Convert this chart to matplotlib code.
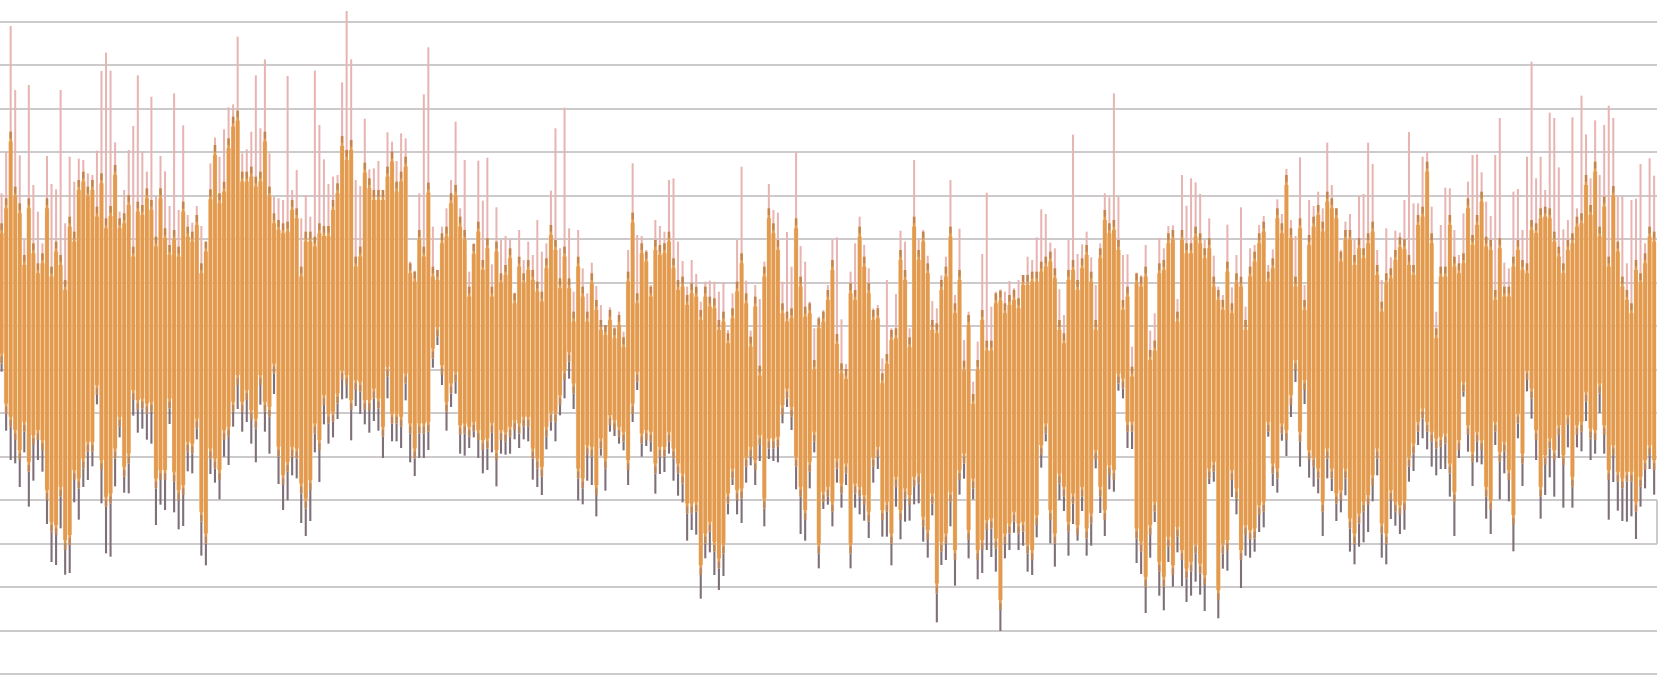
import numpy as np
import matplotlib
matplotlib.use("Agg")
import matplotlib.pyplot as plt

# Values are in arbitrary chart units (the reference shows no axis labels);
# one grid interval is 130.4 units.
HIGH = [
1442,1567,1944,1752,1556,1302,1767,1467,1387,1292,
1554,1470,1454,1752,1352,1552,1477,1546,1542,1502,
1497,1570,1809,1864,1810,1595,1387,1452,1572,1644,
1796,1565,1507,1732,1432,1554,1508,1404,1742,1392,
1646,1377,1354,1404,1344,1297,1532,1609,1552,1634,
1700,1709,1912,1562,1574,1627,1796,1637,1844,1562,
1432,1427,1422,1794,1452,1512,1367,1437,1372,1810,
1647,1544,1470,1492,1497,1775,1989,1844,1482,1464,
1666,1514,1517,1539,1450,1625,1597,1539,1622,1607,
1237,1210,
1442,1739,1880,1342,1212,1342,1397,1482,1657,1397,
1542,1207,1292,1540,1420,1549,1229,1400,1302,1314,
1304,1144,1332,1242,1297,1257,1362,1267,1292,1450,
1637,1277,1699,1337,1147,1332,1217,1142,1234,1164,
1107,1047,1100,1042,1087,1027,1272,1532,1317,1314,
1272,1167,1362,1344,1327,1482,1487,1297,1239,1162,
1242,1200,1117,1177,1180,1177,1147,1174,1032,1142,
1302,1522,1180,1030,1167,1125,1237,1470,1392,1384,
1177,1326,1222,1564,1284,1237,1117,1037,1072,1092,
1167,1302,
1310,1064,930,1207,1292,1372,1287,1217,1097,1107,
947,1182,1037,1140,1330,1297,1037,1542,1304,1332,
1255,1119,1097,1196,1252,1482,1137,1336,1002,1087,
877,997,1260,1444,1102,1147,1154,1147,1179,1157,
1182,1197,1252,1242,1310,1394,1380,1294,1277,1154,
1077,1302,1618,1260,1289,1327,1250,1167,1292,1442,
1430,1742,1432,1257,1259,982,1204,1196,1287,1030,
1082,1308,1277,1344,1346,1125,1497,1405,1487,1475,
1440,1302,1367,1255,1162,1137,1348,1160,1257,1400,
1102,
1277,1287,1347,1374,1227,1274,1424,1380,1515,1362,
1314,1550,1167,1422,1404,1447,1397,1594,1467,1397,
1272,1357,1380,1302,1434,1440,1594,1530,1272,1182,
1337,1250,1330,1324,1422,1626,1412,1412,1552,1567,
1402,1087,1347,1459,1457,1332,1257,1382,1477,1557,
1559,1505,1417,1374,1557,1668,1234,1217,1447,1455,
1332,1552,1837,1487,1552,1452,1684,1668,1520,1334,
1362,1670,1397,1735,1619,1487,1661,1497,1647,1705,
1668,1432,1435,1232,1422,1426,1530,1292,1547,1495,
]

UPPER = [
1352,1427,1627,1462,1412,1257,1427,1292,1232,1262,
1427,1222,1297,1257,1182,1372,1327,1482,1507,1462,
1482,1402,1502,1367,1404,1527,1367,1382,1437,1282,
1417,1407,1457,1422,1312,1457,1337,1287,1332,1282,
1417,1342,1327,1377,1232,1297,1454,1587,1442,1477,
1607,1672,1690,1507,1507,1522,1492,1507,1627,1462,
1382,1362,1352,1357,1422,1397,1222,1327,1327,1312,
1352,1344,1344,1422,1472,1614,1572,1602,1252,1282,
1534,1487,1452,1452,1452,1522,1567,1477,1507,1552,
1232,1207,
1332,1282,1474,1222,1212,1322,1342,1442,1467,1372,
1332,1162,1290,1357,1242,1307,1162,1297,1202,1227,
1277,1142,1252,1202,1242,1212,1177,1147,1247,1347,
1302,1187,1282,1187,1087,1252,1162,1087,1202,1122,
1062,1047,1092,1037,1077,1010,1207,1384,1142,1292,
1267,1162,1302,1287,1292,1327,1247,1182,1192,1137,
1172,1162,1092,1162,1132,1127,1062,1087,1022,1097,
1177,1262,1142,1012,1132,925,1222,1397,1352,1302,
1112,1087,1097,1367,1192,1102,1112,942,1067,1087,
1152,1242,
1020,932,915,1172,1152,1342,1252,1172,1092,1097,
902,960,1032,1037,1272,1212,1010,1372,1272,1327,
1232,1062,1052,1182,1222,1342,1112,1212,940,1077,
840,942,1092,1000,1000,1142,1150,1112,1137,1152,
1127,1197,1197,1207,1207,1237,1252,1267,1217,1062,
1022,1212,1242,1182,1247,1287,1207,1062,1277,1392,
1352,1362,1302,1122,1162,922,1202,1192,1222,972,
1000,1232,1242,1322,1332,1087,1332,1292,1292,1342,
1322,1277,1307,1192,1152,1122,1237,1112,1202,1192,
1062,
1222,1267,1322,1357,1207,1247,1397,1352,1497,1337,
1192,1367,1122,1317,1372,1407,1357,1447,1427,1397,
1267,1332,1332,1257,1307,1277,1322,1357,1227,1117,
1202,1217,1272,1310,1304,1257,1227,1377,1402,1537,
1322,1037,1222,1222,1377,1252,1232,1262,1427,1317,
1377,1447,1312,1302,1152,1307,1162,1162,1252,1302,
1242,1232,1362,1352,1397,1402,1397,1327,1282,1232,
1302,1322,1372,1382,1497,1407,1537,1342,1432,1252,
1464,1297,1192,1152,1112,1242,1202,1262,1342,1327,
]

LOW = [
907,730,642,632,561,665,502,580,642,607,
450,336,327,437,298,303,515,463,561,582,
623,809,512,362,352,563,710,544,542,775,
724,736,703,691,447,508,492,750,485,434,
444,608,602,704,355,326,600,574,524,652,
627,742,795,727,756,691,635,808,727,661,
840,570,492,521,596,587,453,414,459,665,
576,749,691,710,765,824,827,701,804,780,
749,724,759,730,648,827,698,698,678,821,
635,594,648,
648,672,919,987,867,730,801,841,661,655,
678,710,648,602,612,665,563,661,658,661,
704,678,704,698,583,561,537,674,730,698,
776,827,886,795,521,509,580,567,473,655,
550,727,714,691,671,567,756,852,652,684,
667,541,600,606,661,580,535,515,400,432,
418,226,347,365,297,252,294,479,567,479,
453,574,626,567,639,443,645,639,635,752,
801,732,554,420,400,557,665,317,495,508,
443,
574,499,567,317,499,479,460,408,574,615,
412,412,326,502,404,457,460,509,512,397,
349,476,155,327,342,443,265,538,586,347,
524,284,303,372,351,307,129,347,372,424,
372,385,307,297,410,619,698,392,322,522,
489,355,450,400,489,355,385,617,483,414,
554,547,850,827,678,675,333,300,183,349,
456,235,191,336,262,365,264,216,235,277,
238,189,570,577,167,316,310,531,479,258,
355,349,367,426,440,712,564,544,700,654,
771,876,622,810,589,562,542,414,587,549,
459,485,536,367,329,382,395,426,518,596,
349,329,465,445,420,433,577,609,687,707,
674,622,596,615,615,532,414,648,832,667,
564,635,629,466,420,687,524,602,518,368,
707,564,848,766,642,466,537,590,532,648,
499,680,499,680,668,759,642,661,783,661,
463,576,490,459,457,473,405,502,557,615,
538,
]

LOWER = [
932,
782,742,702,642,727,607,687,702,672,522,427,417,532,372,387,582,557,617,667,
667,837,612,502,512,647,742,592,632,822,792,797,782,787,557,582,582,797,577,522,
537,667,662,737,457,392,647,617,582,702,712,787,867,787,822,762,737,867,787,772,
902,652,567,607,652,647,542,497,552,722,672,807,752,757,812,882,867,792,852,847,
792,792,827,797,712,892,752,752,742,872,722,647,
722,722,727,947,1012,897,787,842,877,717,722,712,727,702,672,677,724,642,702,697,
712,732,722,742,742,647,617,592,712,757,757,807,882,937,842,587,557,657,652,537,
677,617,747,732,712,697,612,782,877,692,702,697,602,652,652,697,647,602,572,482,
482,487,297,392,427,367,317,362,512,587,522,527,622,652,612,687,497,677,677,682,
777,827,772,622,532,462,607,697,362,517,532,
487,617,542,602,362,542,532,507,457,622,652,462,487,392,562,462,527,507,562,572,
442,402,512,242,367,392,517,342,582,632,402,557,342,372,432,437,377,192,392,422,
457,422,427,362,342,447,657,722,462,392,572,532,427,512,417,532,407,452,642,532,
462,597,582,872,857,727,727,407,367,262,417,487,307,262,382,297,412,342,287,307,
362,302,267,587,607,222,362,372,582,527,342,417,402,
407,477,487,727,602,587,722,702,807,912,697,852,642,622,587,487,647,587,512,522,
587,437,392,452,487,507,567,647,422,392,522,487,477,492,622,662,727,767,727,697,
677,682,692,602,517,672,847,717,637,697,672,532,492,727,637,667,582,447,752,632,
882,827,702,532,627,677,642,717,627,747,562,717,727,817,707,702,842,717,582,657,
577,557,577,577,487,562,612,657,612,
]

GRID_STEP = 130.4
GRID_COUNT = 16

lens = (len(HIGH), len(UPPER), len(LOWER), len(LOW))
assert len(set(lens)) == 1, f"series lengths differ: {lens}"

high = np.array(HIGH, float)
upper = np.array(UPPER, float)
lower = np.array(LOWER, float)
low = np.array(LOW, float)
days = np.arange(len(high))

ORANGE = "#E39A4E"
PALE = "#F8D6A6"
PINK = "#E8B4B2"
SLATE = "#7F6F79"
BROWN = "#BE8458"
MAUVE = "#B5876A"
GRID = "#C2C0C0"

fig = plt.figure(figsize=(16.59, 6.75), dpi=100, facecolor="white")
ax = fig.add_axes([0, 0, 1, 1])
ax.set_xlim(-0.352, 365.07)
ax.set_ylim(-3, 2022)
ax.axis("off")

grid_vals = np.arange(GRID_COUNT) * GRID_STEP
ax.hlines(grid_vals, -0.352, 364.6, color=GRID, lw=1.2, zorder=1)
ax.vlines(364.6, 3 * GRID_STEP, 4 * GRID_STEP, color=GRID, lw=1.2, zorder=1)

TAPER = 30.0
TIP = 20.0
common = dict(linewidth=0, snap=False)
# wide body of each bar stops just short of the ends, so the bars narrow at their tips
body_low = np.minimum(lower + TAPER, (lower + upper) / 2)
body_high = np.maximum(upper - TAPER, (lower + upper) / 2)

ax.bar(days, body_high - body_low, 1.0, bottom=body_low, color=PALE, alpha=0.7, zorder=2, **common)
ax.bar(days, high - upper, 0.44, bottom=upper, color=PINK, zorder=3, **common)
ax.bar(days, lower - low, 0.46, bottom=low, color=SLATE, zorder=3, **common)
ax.bar(days, upper - lower, 0.6, bottom=lower, color=ORANGE, zorder=4, **common)
ax.bar(days, body_high - body_low, 0.82, bottom=body_low, color=ORANGE, alpha=0.97, zorder=4, **common)
ax.bar(days, np.full(len(days), TIP), 0.44, bottom=upper - TIP, color=BROWN, zorder=5, **common)
ax.bar(days, np.full(len(days), TIP), 0.46, bottom=lower, color=MAUVE, zorder=5, **common)

fig.savefig("out.png", dpi=100, facecolor="white")
